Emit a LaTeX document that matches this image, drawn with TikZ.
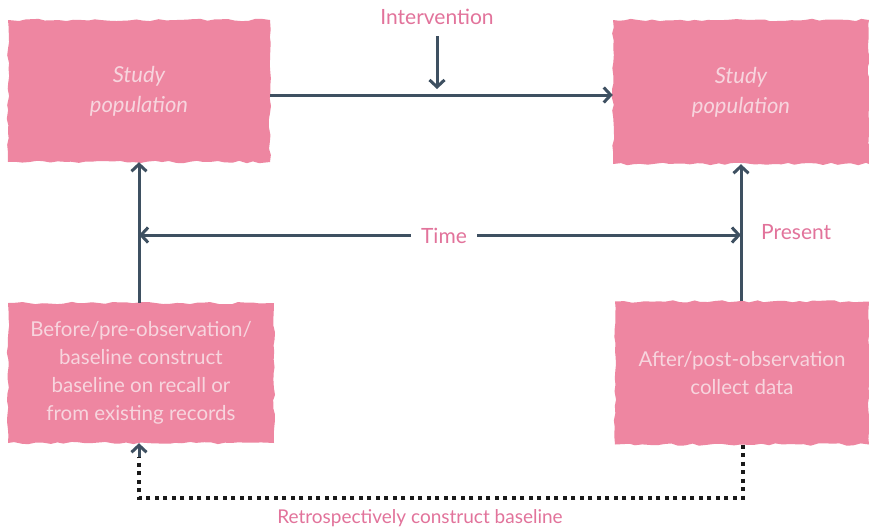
\documentclass[tikz,border=0pt]{standalone}
\usepackage{fontspec}
\setmainfont{Lato}
\usetikzlibrary{arrows.meta,decorations.pathmorphing,calc}
\definecolor{boxpink}{HTML}{EE86A1}
\definecolor{boxtext}{HTML}{F7D5DE}
\definecolor{linecol}{HTML}{3E5061}
\definecolor{labelpink}{HTML}{E2739B}
\tikzset{
  pbox/.style={fill=boxpink, text=boxtext, align=center, inner sep=0pt,
    font=\fontsize{20.5}{28}\selectfont,
    decoration={random steps, segment length=7pt, amplitude=1.2pt}, decorate},
  conn/.style={draw=linecol, line width=3pt, -{Straight Barb[length=7pt,width=15pt,line width=3pt]}},
  dconn/.style={draw=black!90, line width=3.2pt, dash pattern=on 4pt off 4.5pt},
  lbl/.style={text=labelpink, font=\fontsize{21}{24}\selectfont, inner sep=2pt}
}
\pgfmathsetseed{7}
\begin{document}
\begin{tikzpicture}[x=1pt,y=-1pt]
\useasboundingbox[fill=white] (0,0) rectangle (869,531);
\node[pbox, font=\fontsize{22}{30}\selectfont\itshape, minimum width=262pt, minimum height=142pt] (tl) at (139,91) {Study\\population};
\node[pbox, font=\fontsize{22}{30}\selectfont\itshape, minimum width=256pt, minimum height=144pt] (tr) at (741,92) {Study\\population};
\node[pbox, minimum width=266pt, minimum height=140pt] (bl) at (141,373) {Before/pre-observation/\\baseline construct\\baseline on recall or\\from existing records};
\node[pbox, minimum width=254pt, minimum height=143pt] (br) at (742,373) {After/post-observation\\collect data};
\node[lbl] (int) at (437,17) {Intervention};
\coordinate (intstart) at (437,36);
\coordinate (intend) at (437,89);
\draw[conn] (intstart) -- (intend);
\draw[conn] (tl.east |- 0,95) -- (tr.west |- 0,95);
\draw[conn] (bl.north -| 139,0) -- (tl.south -| 139,0);
\draw[conn] (br.north -| 741,0) -- (tr.south -| 741,0);
\coordinate (tleft) at (139,235);
\coordinate (tright) at (741,235);
\draw[conn, {Straight Barb[length=7pt,width=15pt,line width=3pt]}-{Straight Barb[length=7pt,width=15pt,line width=3pt]}] (tleft) -- (tright);
\node[lbl, fill=white, inner xsep=10pt] (time) at (444,236) {Time};
\node[lbl, anchor=west] (pres) at (759,232) {Present};
\coordinate (d1) at (743,498);
\coordinate (d2) at (139,498);
\coordinate (d3) at (139,457);
\draw[dconn] (br.south -| 743,0) -- (d1) -- (d2) -- (d3);
\draw[conn] (d3) -- (bl.south -| 139,0);
\node[lbl, font=\fontsize{19}{22}\selectfont] (retro) at (420,518) {Retrospectively construct baseline};
\end{tikzpicture}
\end{document}
